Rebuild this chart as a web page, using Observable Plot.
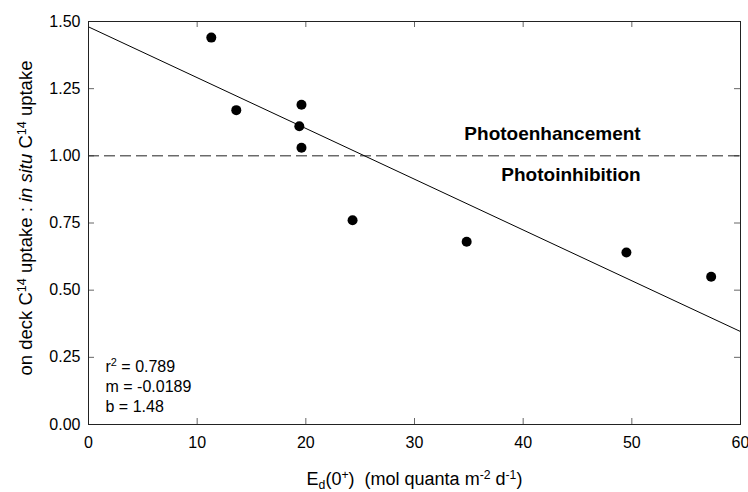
<!DOCTYPE html>
<html><head><meta charset="utf-8">
<script src="https://cdn.jsdelivr.net/npm/d3@7"></script>
<script src="https://cdn.jsdelivr.net/npm/@observablehq/plot@0.6"></script>
<style>
body{margin:0;background:#fff}
svg text{white-space:pre}
</style>
</head><body><div id="chart"></div>
<script>
// ---- data ----
const xTicks = [0, 10, 20, 30, 40, 50, 60];
const yTicks = [0, 0.25, 0.5, 0.75, 1.0, 1.25, 1.5];
const irradiance = [11.3, 13.6, 19.6, 19.4, 19.6, 24.3, 34.8, 49.5, 57.3];
const uptakeRatio = [1.44, 1.17, 1.19, 1.11, 1.03, 0.76, 0.68, 0.64, 0.55];
const fitSlope = -0.0189;
const fitIntercept = 1.48;
const fitRange = [0, 60];
const referenceRatio = [1.0];
const zoneLabels = ["Photoenhancement", "Photoinhibition"];
const zoneX = [42.7, 44.4];
const zoneY = [1.083, 0.929];
const statLines = ["r2 = 0.789", "m = -0.0189", "b = 1.48"];
// rich text parts: [text, kind]
const xLabelParts = [["E",""],["d","sub"],["(0",""],["+","sup"],[")  (mol quanta m",""],["-2","sup"],[" d",""],["-1","sup"],[")",""]];
const yLabelParts = [["on deck C",""],["14","sup"],[" uptake : ",""],["in situ","it"],[" C",""],["14","sup"],[" uptake",""]];
const r2Parts = [["r",""],["2","sup"],[" = 0.789",""]];

const points = irradiance.map((x, i) => ({x, y: uptakeRatio[i]}));
const fitLine = fitRange.map(x => ({x, y: fitIntercept + fitSlope * x}));
const zones = zoneLabels.map((t, i) => ({t, x: zoneX[i], y: zoneY[i]}));
const plain = parts => parts.map(p => p[0]).join("");

const font = "Liberation Sans, Arial, sans-serif";
const tickColor = "#666";
const W = 748, H = 492, mL = 88, mR = 8, mT = 21, mB = 68;
const plotW = W - mL - mR, plotH = H - mT - mB, tickLen = 6;

const plot = Plot.plot({
  width: W,
  height: H,
  marginLeft: mL,
  marginRight: mR,
  marginTop: mT,
  marginBottom: mB,
  style: {fontFamily: font, fontSize: "16px", background: "#fff", color: "#000"},
  x: {domain: [0, 60]},
  y: {domain: [0, 1.5]},
  marks: [
    // inward ticks on all four sides
    Plot.tickX(xTicks, {x: d => d, insetTop: plotH - tickLen, stroke: tickColor}),
    Plot.tickX(xTicks, {x: d => d, insetBottom: plotH - tickLen, stroke: tickColor}),
    Plot.tickY(yTicks, {y: d => d, insetRight: plotW - tickLen, stroke: tickColor}),
    Plot.tickY(yTicks, {y: d => d, insetLeft: plotW - tickLen, stroke: tickColor}),
    // tick labels
    Plot.axisX(xTicks, {anchor: "bottom", tickSize: 0, tickPadding: 12, tickFormat: d3.format("d"), label: null, fontSize: 16}),
    Plot.axisY(yTicks, {anchor: "left", tickSize: 0, tickPadding: 8, tickFormat: d3.format(".2f"), label: null, fontSize: 16}),
    Plot.ruleY(referenceRatio, {stroke: "#222", strokeWidth: 1, strokeDasharray: "11,5"}),
    Plot.line(fitLine, {x: "x", y: "y", stroke: "#000", strokeWidth: 1}),
    Plot.dot(points, {x: "x", y: "y", r: 5, fill: "#000", stroke: "none"}),
    Plot.text(zones, {x: "x", y: "y", text: "t", fontWeight: "bold", fontSize: 19, textAnchor: "middle", fill: "#000"}),
    Plot.text([statLines.join("\n")], {text: d => d, frameAnchor: "bottom-left", textAnchor: "start", lineAnchor: "bottom", lineHeight: 1.25, dx: 17, dy: -13, fontSize: 16, fill: "#000"}),
    Plot.text([plain(xLabelParts)], {text: d => d, frameAnchor: "bottom", textAnchor: "middle", lineAnchor: "bottom", dy: 60, fontSize: 18, fill: "#000"}),
    Plot.text([plain(yLabelParts)], {text: d => d, frameAnchor: "left", rotate: -90, textAnchor: "middle", lineAnchor: "middle", dx: -62, dy: -5, fontSize: 18.5, fill: "#000"}),
    Plot.frame({stroke: "#222", strokeWidth: 1})
  ]
});

// rich text: super/subscripts & italics as tspans
function enrich(svg, text, parts) {
  d3.select(svg).selectAll("text, tspan")
    .filter(function () { return this.childElementCount === 0 && this.textContent === text; })
    .each(function () {
      const el = d3.select(this);
      el.text(null);
      let shift = 0;
      for (const [s, k] of parts) {
        const target = k === "sup" ? -6 : k === "sub" ? 4 : 0;
        const t = el.append("tspan").text(s);
        if (target !== shift) t.attr("dy", target - shift);
        shift = target;
        if (k === "sup" || k === "sub") t.attr("font-size", "0.68em");
        if (k === "it") t.attr("font-style", "italic");
      }
    });
}
enrich(plot, plain(xLabelParts), xLabelParts);
enrich(plot, plain(yLabelParts), yLabelParts);
enrich(plot, statLines[0], r2Parts);

document.getElementById("chart").appendChild(plot);
</script>
</body></html>
